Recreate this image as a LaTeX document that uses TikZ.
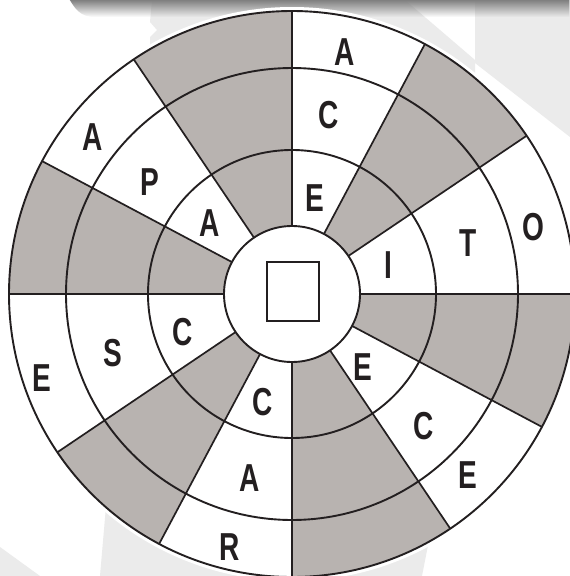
\documentclass[tikz,border=0pt]{standalone}
\usepackage{fontspec}
\setmainfont{Liberation Sans}[FakeStretch=0.72]
\usetikzlibrary{fadings}
\definecolor{sect}{RGB}{184,179,176}
\definecolor{bgl}{RGB}{235,235,235}
\definecolor{ink}{RGB}{35,31,32}
\tikzfading[name=fadedown, top color=transparent!0, bottom color=transparent!100]
\begin{document}
\begin{tikzpicture}[x=1pt,y=1pt,
  ring/.style={line width=1.9pt, draw=ink},
  spoke/.style={line width=1.7pt, draw=ink},
  letter/.style={font=\fontsize{39}{39}\selectfont\bfseries, inner sep=0pt, text=ink}]
\useasboundingbox (0,-576) rectangle (570,0);
\clip (0,-576) rectangle (570,0);
\fill[white] (0,-576) rectangle (570,0);
% background shapes
\fill[bgl] (152,0) -- (405,0) -- (475,-60) -- (475,-150) -- (150,-150) -- (150,-37) -- (157,-30) -- (150,-22) -- cycle;
\fill[bgl] (475,0) -- (570,0) -- (570,-137) -- (475,-63) -- cycle;
\fill[bgl] (107,-495) -- (430,-535) -- (422,-576) -- (100,-576) -- cycle;
\fill[bgl] (0,-547) -- (40,-576) -- (0,-576) -- cycle;
\fill[black!50, path fading=fadedown] (70,0) -- (570,0) -- (570,-17) -- (95,-17) .. controls (80,-17) and (75,-8) .. (70,0) -- cycle;
% wheel
\begin{scope}[shift={(292,-294)}]
  \coordinate (c) at (0,0);
  \fill[white] (c) circle[radius=287];
  \foreach \q in {0,180} {
    \fill[sect] ({\q+34}:68) arc[start angle=\q+34, end angle=\q+62, radius=68]
      -- ({\q+62}:283) arc[start angle=\q+62, end angle=\q+34, radius=283] -- cycle;
  }
  \foreach \q in {90,270} {
    \fill[sect] ({\q}:68) arc[start angle=\q, end angle=\q+34, radius=68]
      -- ({\q+34}:283) arc[start angle=\q+34, end angle=\q, radius=283] -- cycle;
    \fill[sect] ({\q+62}:68) arc[start angle=\q+62, end angle=\q+90, radius=68]
      -- ({\q+90}:283) arc[start angle=\q+90, end angle=\q+62, radius=283] -- cycle;
  }
  \foreach \a in {0,34,62,90,124,152,180,214,242,270,304,332} {
    \draw[spoke] (\a:68) -- (\a:283);
  }
  \draw[ring] (c) circle[radius=144];
  \draw[ring] (c) circle[radius=226];
  \draw[ring] (c) circle[radius=283];
  \draw[ring, fill=white] (c) circle[radius=68];
  \node[draw=ink, line width=1.9pt, minimum width=52pt, minimum height=59pt, inner sep=0pt] (box) at (1,2.5) {};
\end{scope}
% letters
\node[letter] (a1) at (345,-52) {A};
\node[letter] (c1) at (329,-115) {C};
\node[letter] (e1) at (315,-198) {E};
\node[letter] (i1) at (388,-265) {I};
\node[letter] (t1) at (468,-243) {T};
\node[letter] (o1) at (533,-227) {O};
\node[letter] (a2) at (93,-137) {A};
\node[letter] (p1) at (150,-182) {P};
\node[letter] (a3) at (210,-223) {A};
\node[letter] (c2) at (183,-332) {C};
\node[letter] (s1) at (113,-353) {S};
\node[letter] (e2) at (42,-378) {E};
\node[letter] (c3) at (263,-402) {C};
\node[letter] (a4) at (250,-478) {A};
\node[letter] (r1) at (230,-547) {R};
\node[letter] (e3) at (363,-367) {E};
\node[letter] (c4) at (424,-426) {C};
\node[letter] (e4) at (468,-475) {E};
\end{tikzpicture}
\end{document}
